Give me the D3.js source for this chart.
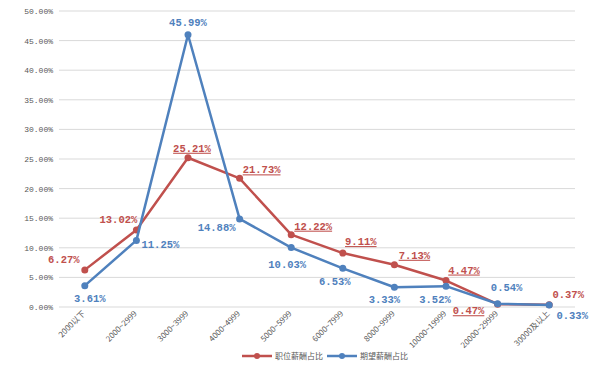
<!DOCTYPE html>
<html><head><meta charset="utf-8">
<script src="https://cdn.jsdelivr.net/npm/d3@7/dist/d3.min.js"></script>
<style>body{margin:0;background:#fff;}svg{display:block;}</style>
</head><body><svg id="c" width="609" height="366"></svg>
<script>
const categories = ["2000以下","2000~2999","3000~3999","4000~4999","5000~5999","6000~7999","8000~9999","10000~19999","20000~29999","30000及以上"];
const jobShare = [6.27,13.02,25.21,21.73,12.22,9.11,7.13,4.47,0.47,0.37];
const expectShare = [3.61,11.25,45.99,14.88,10.03,6.53,3.33,3.52,0.54,0.33];
const yTicks = [0,5,10,15,20,25,30,35,40,45,50];
const seriesNames = ["职位薪酬占比","期望薪酬占比"];
const colors = ["#C0504D","#4F81BD"];
// label offsets (layout only)
const jobLabelOff = [[-21,-11],[-18,-11],[4,-10],[22,-9],[22,-9],[18,-12],[20,-10],[18,-11],[-29,6],[19,-11]];
const jobUnderline = [false,false,true,true,true,true,true,true,true,false];
const expectLabelOff = [[5,12],[24,4],[0,-13],[-23,8],[-4,16],[-8,13],[-10,12],[-11,13],[9,-17],[23,10]];

const svg = d3.select("#c");
const x = d3.scaleBand().domain(categories).range([59,575]);
const y = d3.scaleLinear().domain([0,50]).range([307,11]);
const cx = d => x(d) + x.bandwidth()/2;

// grid
svg.append("g").selectAll("line").data(yTicks).join("line")
  .attr("x1",59).attr("x2",575).attr("y1",d=>y(d)).attr("y2",d=>y(d))
  .attr("stroke","#d9d9d9").attr("stroke-width",1);
// y labels
svg.append("g").selectAll("text").data(yTicks).join("text")
  .attr("x",53).attr("y",d=>y(d)+3).attr("text-anchor","end")
  .attr("font-family","Liberation Mono, monospace").attr("font-size",8).attr("fill","#595959")
  .text(d=>d.toFixed(2)+"%");
// x labels
svg.append("g").selectAll("text").data(categories).join("text")
  .attr("transform",d=>`translate(${cx(d)+1},${314}) rotate(-45)`)
  .attr("text-anchor","end")
  .attr("font-family","Noto Sans CJK SC, sans-serif").attr("font-size",8).attr("fill","#595959")
  .text(d=>d);

const line = d3.line().x((d,i)=>cx(categories[i])).y(d=>y(d));
const allSeries = [jobShare, expectShare];
const offs = [jobLabelOff, expectLabelOff];
allSeries.forEach((vals,s)=>{
  const g = svg.append("g");
  g.append("path").datum(vals).attr("d",line).attr("fill","none")
    .attr("stroke",colors[s]).attr("stroke-width",2.5).attr("stroke-linejoin","round");
  g.selectAll("circle").data(vals).join("circle")
    .attr("cx",(d,i)=>cx(categories[i])).attr("cy",d=>y(d)).attr("r",3.5).attr("fill",colors[s]);
});
// labels
[1,0].forEach(s=>{
  const vals = allSeries[s];
  svg.append("g").selectAll("text").data(vals).join("text")
    .attr("x",(d,i)=>cx(categories[i])+offs[s][i][0])
    .attr("y",(d,i)=>y(d)+offs[s][i][1]+4)
    .attr("text-anchor","middle")
    .attr("font-family","Liberation Mono, monospace").attr("font-weight","bold").attr("font-size",10.5)
    .attr("fill",colors[s])
    .attr("text-decoration",(d,i)=> s===0 && jobUnderline[i] ? "underline" : null)
    .text(d=>d.toFixed(2)+"%");
});
// legend
const leg = svg.append("g");
const legX = [242,327];
seriesNames.forEach((n,i)=>{
  leg.append("line").attr("x1",legX[i]).attr("x2",legX[i]+30).attr("y1",356).attr("y2",356)
    .attr("stroke",colors[i]).attr("stroke-width",2.5);
  leg.append("circle").attr("cx",legX[i]+15).attr("cy",356).attr("r",3).attr("fill",colors[i]);
  leg.append("text").attr("x",legX[i]+33).attr("y",359).attr("font-size",8)
    .attr("font-family","Noto Sans CJK SC, sans-serif").attr("fill","#595959").text(n);
});
</script></body></html>
